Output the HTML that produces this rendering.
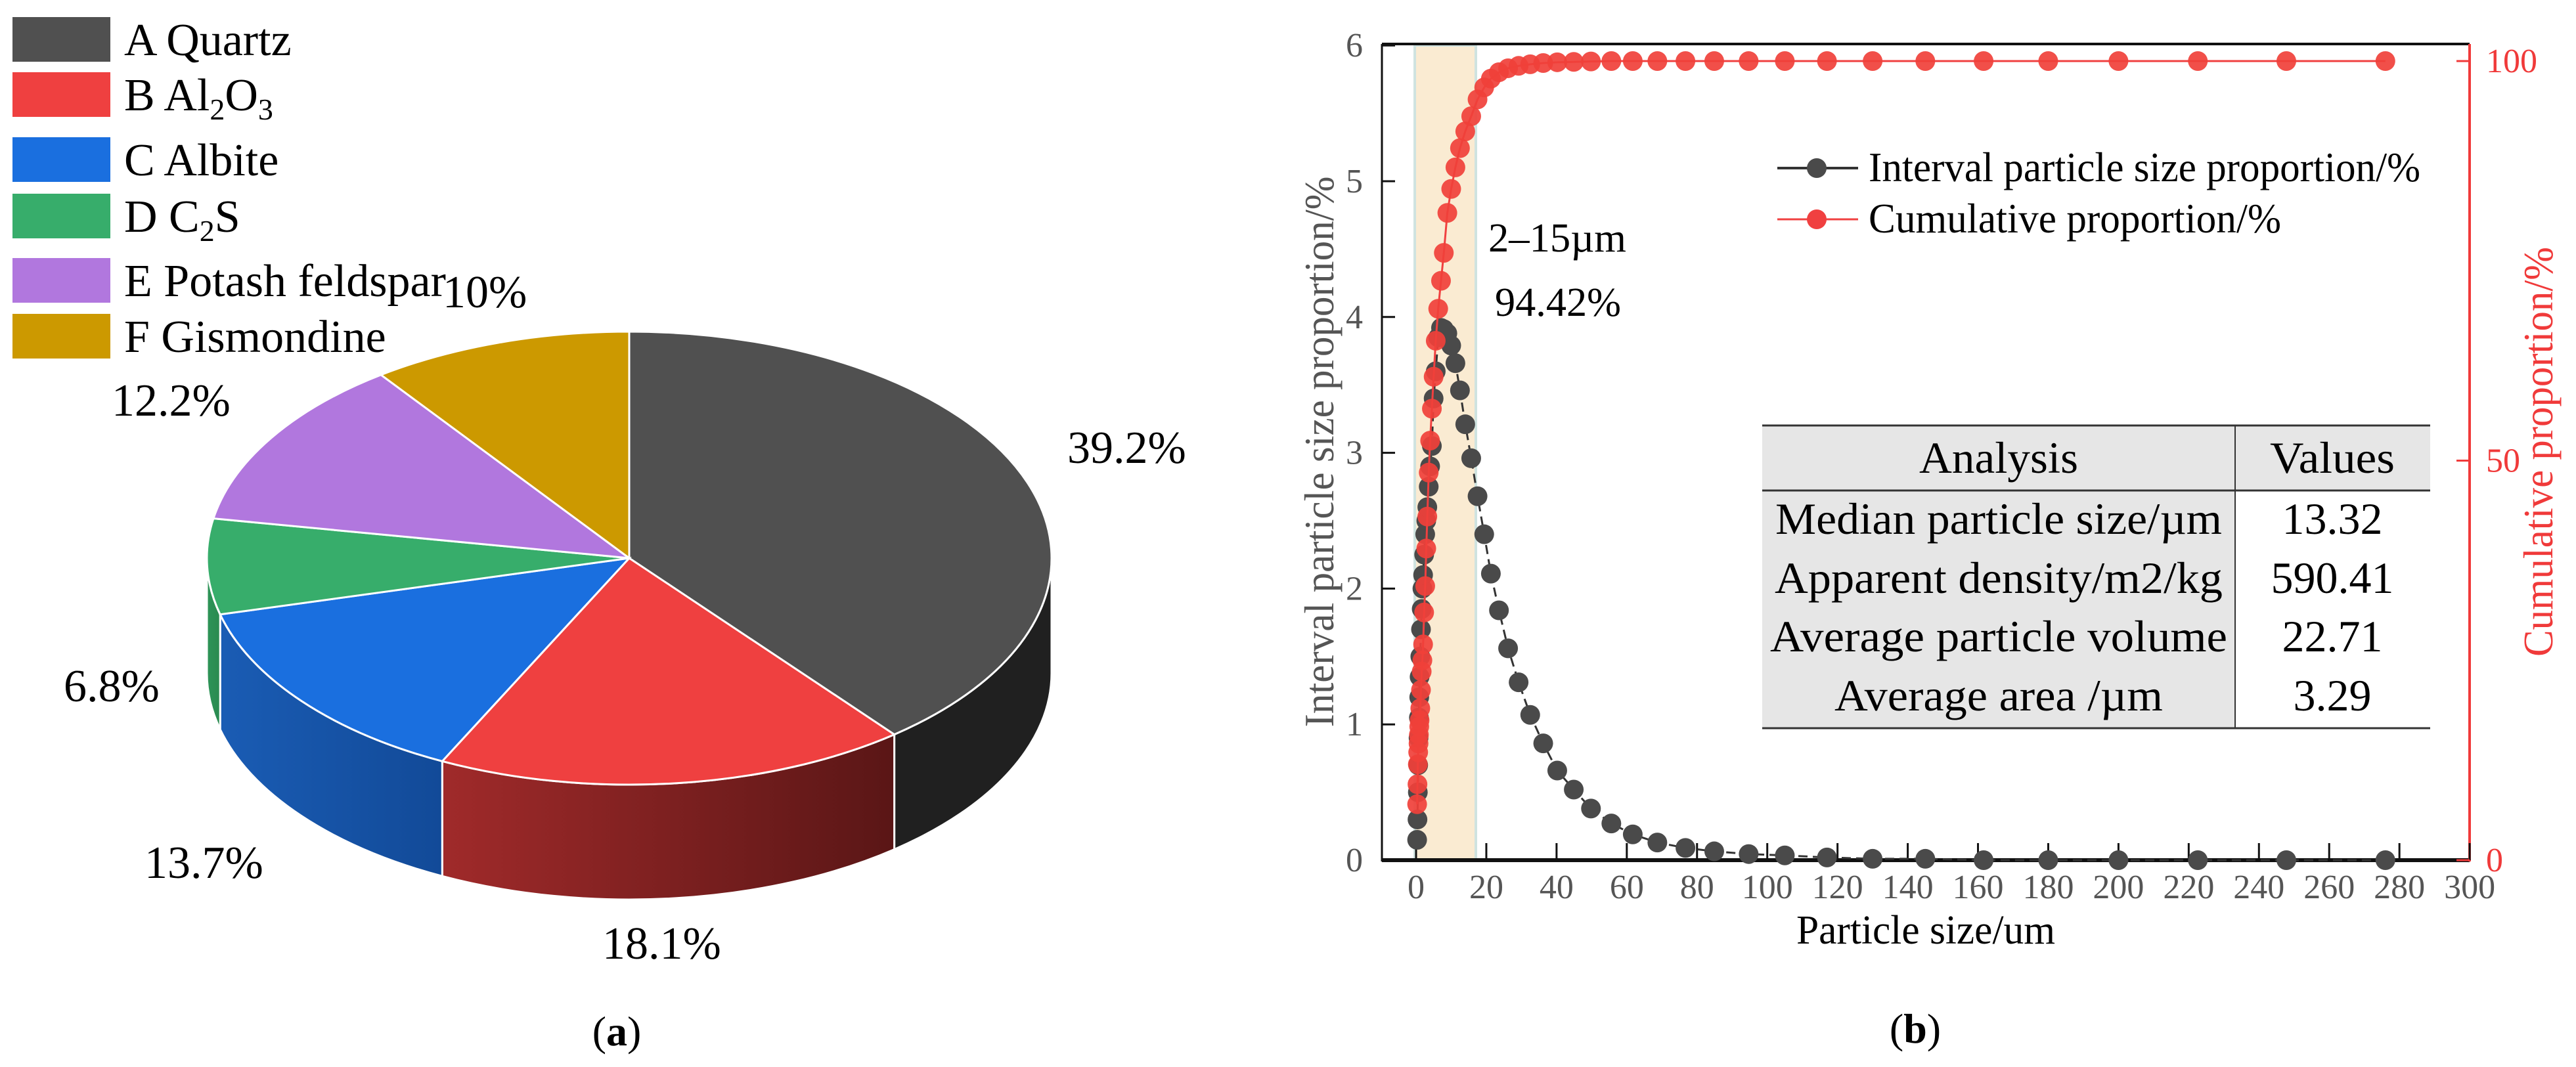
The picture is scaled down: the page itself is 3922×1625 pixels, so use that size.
<!DOCTYPE html>
<html><head><meta charset="utf-8"><style>
html,body{margin:0;padding:0;background:#fff}
svg, svg text, svg tspan{font-family:"Liberation Serif","Times New Roman","Noto Serif CJK SC",serif}
</style></head><body>
<svg id="fig" width="3922" height="1620" viewBox="0 0 3922 1620" xmlns="http://www.w3.org/2000/svg">
<defs>
<linearGradient id="gRed" x1="0" x2="1" y1="0" y2="0"><stop offset="0" stop-color="#a02a2a"/><stop offset="1" stop-color="#5a1616"/></linearGradient>
<linearGradient id="gBlue" x1="0" x2="1" y1="0" y2="0"><stop offset="0" stop-color="#1a5cb4"/><stop offset="1" stop-color="#124a98"/></linearGradient>
<linearGradient id="gGreen" x1="0" x2="1" y1="0" y2="0"><stop offset="0" stop-color="#2e9458"/><stop offset="1" stop-color="#2a8a50"/></linearGradient>
</defs>
<g id="pie"></g>
<g id="legendA"></g>
<text x="939" y="1592" font-size="64" text-anchor="middle">(<tspan font-weight="bold">a</tspan>)</text>

<g id="chartB">
<rect x="2154" y="69" width="93" height="1241" fill="#faebd2" stroke="#cfe3e0" stroke-width="4"/>
<g id="axes"></g>
<g id="series"></g>
<text x="2266" y="383" font-size="62" textLength="210" lengthAdjust="spacingAndGlyphs">2–15µm</text>
<text x="2276" y="481" font-size="62" textLength="192" lengthAdjust="spacingAndGlyphs">94.42%</text>
<g>
 <g>
  <line x1="2706" y1="256" x2="2829" y2="256" stroke="#333" stroke-width="4"/>
  <circle cx="2766" cy="256" r="15" fill="#4a4a4a"/>
  <text x="2845" y="276" font-size="64" textLength="840" lengthAdjust="spacingAndGlyphs">Interval particle size proportion/%</text>
 </g>
 <g>
  <line x1="2706" y1="334" x2="2829" y2="334" stroke="#f04040" stroke-width="3"/>
  <circle cx="2766" cy="334" r="15" fill="#f04040"/>
  <text x="2845" y="354" font-size="64" textLength="628" lengthAdjust="spacingAndGlyphs">Cumulative proportion/%</text>
 </g>
</g>
<g>
 <rect x="2683" y="648" width="1017" height="99" fill="#e6e6e6"/>
 <rect x="2683" y="747" width="720" height="362" fill="#e6e6e6"/>
 <line x1="2683" y1="648" x2="3700" y2="648" stroke="#333" stroke-width="3"/>
 <line x1="2683" y1="747" x2="3700" y2="747" stroke="#333" stroke-width="3"/>
 <line x1="2683" y1="1109" x2="3700" y2="1109" stroke="#333" stroke-width="3"/>
 <line x1="3403" y1="648" x2="3403" y2="1109" stroke="#333" stroke-width="2"/>
 <g font-size="68" text-anchor="middle">
  <text x="3043" y="720" textLength="242" lengthAdjust="spacingAndGlyphs">Analysis</text>
  <text x="3551" y="720" textLength="190" lengthAdjust="spacingAndGlyphs">Values</text>
  <text x="3043" y="813" textLength="680" lengthAdjust="spacingAndGlyphs">Median particle size/µm</text>
  <text x="3551" y="813">13.32</text>
  <text x="3043" y="903" textLength="682" lengthAdjust="spacingAndGlyphs">Apparent density/m2/kg</text>
  <text x="3551" y="903">590.41</text>
  <text x="3043" y="992" textLength="696" lengthAdjust="spacingAndGlyphs">Average particle volume</text>
  <text x="3551" y="992">22.71</text>
  <text x="3043" y="1082" textLength="500" lengthAdjust="spacingAndGlyphs">Average area /µm</text>
  <text x="3551" y="1082">3.29</text>
 </g>
</g>
<text x="2932" y="1437" font-size="62" text-anchor="middle" textLength="394" lengthAdjust="spacingAndGlyphs">Particle size/um</text>
<text transform="translate(2030,688) rotate(-90)" font-size="64" fill="#555" text-anchor="middle" textLength="839" lengthAdjust="spacingAndGlyphs">Interval particle size proportion/%</text>
<text transform="translate(3886,688) rotate(-90)" font-size="64" fill="#f03a3a" text-anchor="middle" textLength="624" lengthAdjust="spacingAndGlyphs">Cumulative proportion/%</text>
</g>
<text x="2916" y="1588" font-size="64" text-anchor="middle">(<tspan font-weight="bold">b</tspan>)</text>
</svg>
<script>
// ---- Pie data ----
const pieLabels = ["A Quartz","B Al2O3","C Albite","D C2S","E Potash feldspar","F Gismondine"];
const pieValues = [39.2, 18.1, 13.7, 6.8, 12.2, 10];
const pieText = ["39.2%","18.1%","13.7%","6.8%","12.2%","10%"];
// ---- Particle chart data ----
const sizes = [0.3,0.4,0.5,0.6,0.7,0.8,0.9,1.0,1.2,1.4,1.6,1.8,2.0,2.3,2.6,2.9,3.2,3.6,4.0,4.5,5.0,5.6,6.3,7.1,7.9,8.9,10.0,11.2,12.5,14.0,15.7,17.5,19.4,21.3,23.6,26.2,29.2,32.5,36.2,40.2,44.9,49.8,55.6,61.7,68.7,76.7,84.9,94.7,105,117,130,145,161.6,180,200,222.6,247.8,276];
const intervalVals = [0.15,0.3,0.5,0.7,0.9,1.05,1.2,1.35,1.5,1.7,1.85,2.0,2.1,2.25,2.4,2.5,2.6,2.75,2.9,3.05,3.4,3.6,3.85,3.92,3.91,3.88,3.79,3.66,3.46,3.21,2.96,2.68,2.40,2.11,1.84,1.56,1.31,1.07,0.86,0.66,0.52,0.38,0.27,0.19,0.13,0.09,0.065,0.045,0.035,0.02,0.01,0.01,0,0,0,0,0,0];
const cumulativeVals = [7,9.5,12,13.5,14.6,15.7,16.7,17.5,19,21.3,23.6,25,27,31,34.3,39,43,48.5,52.5,56.5,60.5,65,69,72.5,76,81,84,86.7,89.1,91.2,93.1,95.2,96.7,97.8,98.6,99.1,99.4,99.6,99.75,99.85,99.9,99.95,100,100,100,100,100,100,100,100,100,100,100,100,100,100,100,100];
const xTicks = [0,20,40,60,80,100,120,140,160,180,200,220,240,260,280,300];
const yLeftTicks = [0,1,2,3,4,5,6];
const yRightTicks = [0,50,100];

const NS="http://www.w3.org/2000/svg";
function mk(tag,attrs,parent){const e=document.createElementNS(NS,tag);for(const k in attrs)e.setAttribute(k,attrs[k]);parent.appendChild(e);return e;}

// ---- Pie ----
const pie=document.getElementById('pie');
const cx=958, cy=850, rx=643, ry=345, depth=175;
const colors=["#505050","#ef4040","#1a6fdf","#37ad6b","#b177de","#cc9900"];
const sideFill=["#202020","url(#gRed)","url(#gBlue)","url(#gGreen)","#8a5ab0","#a07800"];
function P(th,dy){const r=th*Math.PI/180;return [cx+rx*Math.sin(r), cy-ry*Math.cos(r)+(dy||0)];}
const total=pieValues.reduce((a,b)=>a+b,0);
let acc=0; const angs=[];
pieValues.forEach(v=>{const a=acc/total*360; acc+=v; angs.push([a,acc/total*360]);});
angs.forEach((ab,i)=>{
  const a=Math.max(ab[0],90), b=Math.min(ab[1],270);
  if(b>a){
    const p1=P(a),p2=P(b),p3=P(b,depth),p4=P(a,depth);
    const s=mk('path',{d:`M${p1} A${rx} ${ry} 0 0 1 ${p2} L${p3} A${rx} ${ry} 0 0 0 ${p4} Z`,fill:sideFill[i],stroke:'#fff','stroke-width':3},pie);
    
    
  }
});
angs.forEach((ab,i)=>{
  const p1=P(ab[0]),p2=P(ab[1]);const large=(ab[1]-ab[0])>180?1:0;
  const s=mk('path',{d:`M${cx},${cy} L${p1} A${rx} ${ry} 0 ${large} 1 ${p2} Z`,fill:colors[i],stroke:'#fff','stroke-width':3},pie);
  
  
});
const labelPos=[[1625,705],[917,1460],[220,1337],[97,1068],[170,633],[674,468]];
pieText.forEach((t,i)=>{
  const e=mk('text',{x:labelPos[i][0],y:labelPos[i][1],'font-size':70},pie);
  e.textContent=t;
  
  
});
// legend
const lg=document.getElementById('legendA');
const rowsY=[26,110,209,295,393,478];
const legendHTML=["A Quartz",'B Al<tspan font-size="46" dy="14">2</tspan><tspan dy="-14">O</tspan><tspan font-size="46" dy="14">3</tspan>',"C Albite",'D C<tspan font-size="46" dy="14">2</tspan><tspan dy="-14">S</tspan>',"E Potash feldspar","F Gismondine"];
rowsY.forEach((y,i)=>{
  const g=mk('g',{},lg);
  
  
  mk('rect',{x:19,y:y,width:149,height:68,fill:colors[i]},g);
  const t=mk('text',{x:189,y:y+58,'font-size':70},g);
  t.innerHTML=legendHTML[i];
});

// ---- Particle chart ----
const X=v=>2156+v*5.347;
const YL=v=>1310-v*206.8;
const YR=v=>1310-v*12.17;
const ax=document.getElementById('axes');
mk('line',{x1:2104,y1:67,x2:3760,y2:67,stroke:'#111','stroke-width':4},ax);
mk('line',{x1:2104,y1:67,x2:2104,y2:1312,stroke:'#111','stroke-width':3},ax);
mk('line',{x1:2104,y1:1310,x2:3760,y2:1310,stroke:'#111','stroke-width':6},ax);
mk('line',{x1:3760,y1:67,x2:3760,y2:1312,stroke:'#f03a3a','stroke-width':4},ax);
xTicks.forEach(v=>{
  mk('line',{x1:X(v),y1:1310,x2:X(v),y2:1284,stroke:'#111','stroke-width':3},ax);
  const t=mk('text',{x:X(v),y:1368,'font-size':52,fill:'#555','text-anchor':'middle'},ax);
  t.textContent=v;
  
  
});
yLeftTicks.forEach(v=>{
  mk('line',{x1:2104,y1:YL(v),x2:2124,y2:YL(v),stroke:'#111','stroke-width':3},ax);
  const t=mk('text',{x:2075,y:YL(v)+17,'font-size':52,fill:'#555','text-anchor':'end'},ax);
  t.textContent=v;
  
  
});
yRightTicks.forEach(v=>{
  mk('line',{x1:3740,y1:YR(v),x2:3760,y2:YR(v),stroke:'#f03a3a','stroke-width':3},ax);
  const t=mk('text',{x:3785,y:YR(v)+17,'font-size':52,fill:'#f03a3a'},ax);
  t.textContent=v;
  
  
});
const se=document.getElementById('series');
const grayPts=sizes.map((s,i)=>[X(s),YL(intervalVals[i])]);
const redPts=sizes.map((s,i)=>[X(s),YR(cumulativeVals[i])]);
const gl=mk('polyline',{points:grayPts.join(' '),fill:'none',stroke:'#333','stroke-width':3,'stroke-dasharray':'14 8'},se);


grayPts.forEach(p=>{
  const c=mk('circle',{cx:p[0],cy:p[1],r:15,fill:'#4a4a4a'},se);
  
  
});
const rl=mk('polyline',{points:redPts.join(' '),fill:'none',stroke:'#f04040','stroke-width':3},se);


redPts.forEach(p=>{
  const c=mk('circle',{cx:p[0],cy:p[1],r:15,fill:'#f0403a','fill-opacity':0.92},se);
  
  
});
</script>
</body></html>
